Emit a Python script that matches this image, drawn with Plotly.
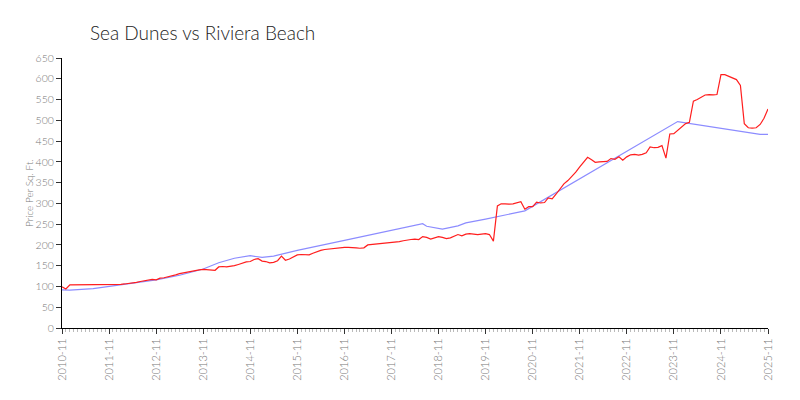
import plotly.graph_objects as go
import pandas as pd

title_text = "Sea Dunes vs Riviera Beach"
y_title = "Price Per Sq. Ft."

# Red series: monthly, 2010-11 .. 2025-11
red_start = "2010-11-01"
red_values = [
    99, 94, 104, 104, 104, 104, 104, 104, 104, 104, 104, 104,   # 2010-11 .. 2011-10
    104, 104, 105, 105, 106, 107, 108, 110, 112, 114, 116, 117,  # 2011-11 .. 2012-10
    116, 120, 121, 123, 126, 128, 131, 133, 135, 136, 138, 140,  # 2012-11 .. 2013-10
    141, 140, 140, 139, 147, 148, 147, 148, 150, 153, 157, 159,  # 2013-11 .. 2014-10
    160, 165, 167, 161, 160, 157, 158, 162, 173, 163, 166, 170,  # 2014-11 .. 2015-10
    176, 177, 177, 176, 180, 184, 187, 189, 190, 191, 193, 194,  # 2015-11 .. 2016-10
    194, 194, 194, 193, 192, 193, 200, 201, 202, 203, 203, 205,  # 2016-11 .. 2017-10
    206, 207, 208, 210, 212, 213, 214, 213, 220, 218, 214, 217,  # 2017-11 .. 2018-10
    220, 218, 215, 217, 221, 225, 222, 226, 227, 226, 225, 226,  # 2018-11 .. 2019-10
    227, 225, 209, 294, 299, 299, 298, 299, 301, 304, 286, 292,  # 2019-11 .. 2020-10
    292, 303, 301, 302, 313, 311, 322, 335, 347, 355, 364, 375,  # 2020-11 .. 2021-10
    388, 400, 411, 405, 399, 400, 401, 401, 408, 406, 412, 404,  # 2021-11 .. 2022-10
    412, 417, 418, 416, 418, 422, 436, 434, 435, 439, 409, 467,  # 2022-11 .. 2023-10
    468, 476, 484, 492, 495, 546, 550, 555, 561, 562, 561, 562,  # 2023-11 .. 2024-10
    610, 610, 606, 601, 598, 584, 492, 482, 481, 482, 490, 505,  # 2024-11 .. 2025-10
    527,                                                        # 2025-11
]
red_dates = pd.date_range(red_start, periods=len(red_values), freq="MS")

# Blue series: readings at the dates where its slope changes
blue_dates = [
    "2010-11-01", "2011-01-01", "2011-07-01", "2011-11-01", "2012-05-01",
    "2012-11-01", "2013-05-01", "2013-11-01", "2014-03-01", "2014-07-01",
    "2014-11-01", "2015-02-01", "2015-05-01", "2015-11-01", "2016-11-01",
    "2017-11-01", "2018-07-01", "2018-08-01", "2018-12-01", "2019-04-01",
    "2019-06-01", "2019-11-01", "2020-09-01", "2023-12-01", "2025-08-01",
    "2025-09-01", "2025-11-01",
]
blue_values = [
    92, 91, 95, 100, 108,
    116, 127, 142, 157, 168,
    174, 170, 173, 187, 211,
    236, 251, 245, 238, 246,
    253, 262, 282, 497, 469,
    466, 466,
]

y_ticks = list(range(0, 651, 50))

FONT = "Lato"
# the page body adds an 8px offset; margins compensate for it
OFF = 8
W, H = 800, 400
L, R = 62 - OFF, 40

fig = go.Figure()
fig.add_trace(go.Scatter(x=blue_dates, y=blue_values, mode="lines",
                         line=dict(color="rgb(140,140,255)", width=1.2),
                         name="Sea Dunes", hoverinfo="x+y"))
fig.add_trace(go.Scatter(x=red_dates, y=red_values, mode="lines",
                         line=dict(color="rgb(255,30,30)", width=1.2),
                         name="Riviera Beach", hoverinfo="x+y"))

fig.add_annotation(text=y_title, textangle=-90, xref="paper", yref="paper",
                   x=(29 - OFF - L) / (W - L - R), y=0.5, xanchor="center", yanchor="middle",
                   showarrow=False,
                   font=dict(family=FONT, size=10, color="#777777", weight=300))

fig.update_layout(
    width=W, height=H,
    margin=dict(l=L, r=R, t=58 - OFF, b=80),
    paper_bgcolor="white", plot_bgcolor="white",
    showlegend=False,
    font=dict(family=FONT, color="#666666", size=11, weight=300),
    title=dict(text=title_text, x=(90 - OFF) / W, xanchor="left",
               y=1 - (33 - OFF) / H, yanchor="middle",
               font=dict(family=FONT, size=19, color="#222222", weight=300)),
    xaxis=dict(
        type="date",
        range=["2010-11-01", "2025-11-01"],
        tickformat="%Y-%m",
        dtick="M12",
        tick0="2010-11-01",
        tickangle=-90,
        automargin=False,
        showgrid=False, zeroline=False,
        showline=True, linecolor="black", linewidth=1,
        ticks="outside", ticklen=5, tickcolor="#333333",
        tickfont=dict(family=FONT, size=11, color="#777777", weight=300),
        minor=dict(dtick="M1", tick0="2010-11-01", ticks="outside", ticklen=3,
                   tickcolor="#bbbbbb", showgrid=False),
    ),
    yaxis=dict(
        range=[0, 650],
        tickvals=y_ticks,
        automargin=False,
        showgrid=False, zeroline=False,
        showline=True, linecolor="black", linewidth=1,
        ticks="outside", ticklen=5, tickcolor="#333333",
        tickfont=dict(family=FONT, size=10.5, color="#777777", weight=300),
    ),
)

fig.write_html("out.html")
